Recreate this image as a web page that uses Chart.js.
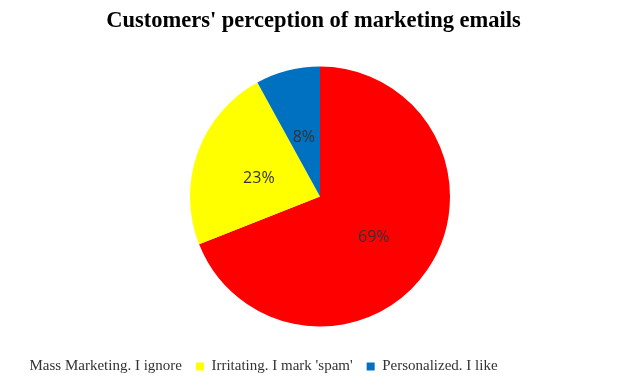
<!DOCTYPE html>
<html>
<head>
<meta charset="utf-8">
<script src="https://cdn.jsdelivr.net/npm/chart.js@4/dist/chart.umd.min.js"></script>
<style>
  html, body { margin: 0; padding: 0; background: #fff; }
  #wrap { width: 627px; height: 388px; }
</style>
</head>
<body>
<div id="wrap"><canvas id="chart"></canvas></div>
<script>
const labels = ['Mass Marketing. I ignore', "Irritating. I mark 'spam'", 'Personalized. I like'];
const shares = [69, 23, 8];
const colors = ['#FF0000', '#FFFF00', '#0070C0'];

// draw the percentage inside each slice
const sliceLabels = {
  id: 'sliceLabels',
  afterDatasetsDraw(chart) {
    const ctx = chart.ctx;
    const meta = chart.getDatasetMeta(0);
    ctx.save();
    ctx.font = '16px "Open Sans", sans-serif';
    ctx.fillStyle = '#333';
    ctx.textAlign = 'center';
    ctx.textBaseline = 'middle';
    meta.data.forEach((arc, i) => {
      const p = arc.getCenterPoint();
      ctx.fillText(shares[i] + '%', p.x, p.y + 4);
    });
    ctx.restore();
  }
};

// pie sits a little right of the canvas centre in the original
const shiftPie = {
  id: 'shiftPie',
  afterLayout(chart) {
    chart.chartArea.left += 13;
    chart.chartArea.width -= 13;
  }
};

const ctx = document.getElementById('chart').getContext('2d');
new Chart(ctx, {
  type: 'pie',
  data: {
    labels: labels,
    datasets: [{
      data: shares,
      backgroundColor: colors,
      borderWidth: 0
    }]
  },
  options: {
    responsive: true,
    maintainAspectRatio: false,
    animation: false,
    radius: 130,
    layout: { padding: { bottom: 4 } },
    plugins: {
      title: {
        display: true,
        text: "Customers' perception of marketing emails",
        color: '#000',
        font: { family: '"Liberation Serif", serif', size: 22.5, weight: 'bold' },
        padding: { top: 8, bottom: 13 }
      },
      legend: {
        position: 'bottom',
        align: 'start',
        labels: {
          color: '#333',
          font: { family: '"Liberation Serif", serif', size: 15 },
          boxWidth: 8,
          boxHeight: 8,
          padding: 14,
          generateLabels(chart) {
            const items = Chart.overrides.pie.plugins.legend.labels.generateLabels(chart);
            // first legend marker is cut off in the original
            items[0].fillStyle = 'rgba(0,0,0,0)';
            items[0].strokeStyle = 'rgba(0,0,0,0)';
            return items;
          }
        },
        onClick: null
      },
      tooltip: { enabled: false }
    }
  },
  plugins: [sliceLabels, shiftPie]
});
</script>
</body>
</html>
